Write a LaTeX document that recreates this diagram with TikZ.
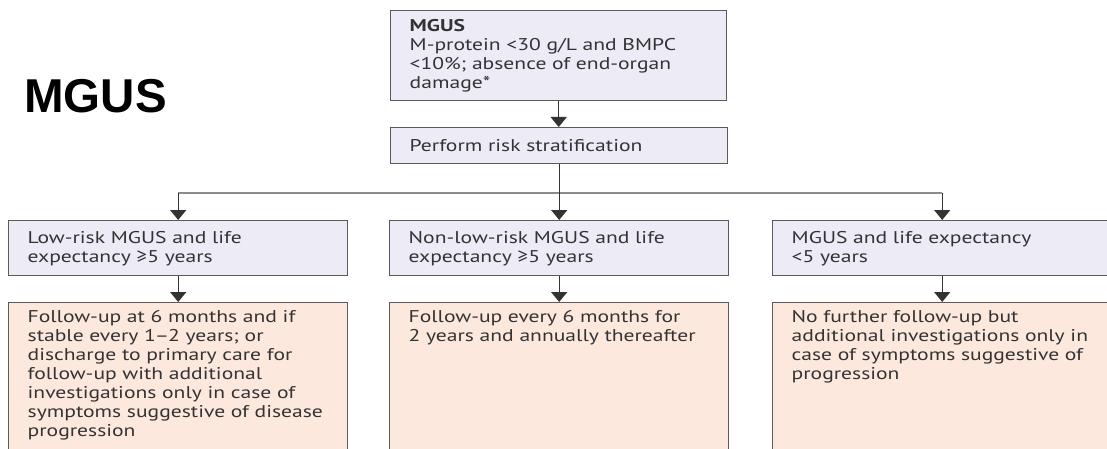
\documentclass[tikz,border=0pt]{standalone}
\usepackage{fontspec}
\setmainfont{Liberation Sans}
\newfontfamily\boxfont[FakeStretch=1.27]{PT Sans}
\usetikzlibrary{arrows.meta,positioning}
\definecolor{boxline}{HTML}{5A5A5A}
\definecolor{boxtext}{HTML}{333333}
\definecolor{lilac}{HTML}{EDEBF5}
\definecolor{peach}{HTML}{FDE8DE}
\tikzset{
    stage/.style={draw=boxline, line width=1.4pt, fill=lilac, text=boxtext,
        font=\boxfont\fontsize{17}{19}\selectfont, align=left,
        anchor=north west, inner xsep=19pt, inner ysep=0pt},
    plan/.style={stage, fill=peach, text depth=150pt, inner ysep=8pt},
    arrow/.style={draw=black!80, line width=1.4pt, -{Triangle[width=16pt,length=10pt]}},
    split/.style={draw=black!45, line width=1.4pt}
}

\begin{document}
\begin{tikzpicture}[x=1pt, y=-1pt]
    \useasboundingbox (0,0) rectangle (1107,449);
    \fill[white] (0,0) rectangle (1107,449);

    % title
    \node[font=\bfseries\fontsize{47.5}{47.5}\selectfont, anchor=base west, inner sep=0] (title) at (24,113) {MGUS};

    % top of the chart
    \node[stage, text width=298pt, minimum height=90pt] (mgus) at (390,10)
        {\textbf{MGUS}\\M-protein <30 g/L and BMPC\\<10\%; absence of end-organ\\damage*};
    \node[stage, text width=299pt, minimum height=36pt] (risk) at (390,127)
        {Perform risk stratification};

    % risk groups
    \node[stage, text width=301pt, minimum height=55pt] (lowrisk) at (8,220)
        {Low-risk MGUS and life\\expectancy ≥5 years};
    \node[stage, text width=301pt, minimum height=55pt] (nonlow) at (389,220)
        {Non-low-risk MGUS and life\\expectancy ≥5 years};
    \node[stage, text width=301pt, minimum height=55pt] (short) at (772,220)
        {MGUS and life expectancy\\<5 years};

    % follow-up
    \node[plan, text width=301pt] (lowplan) at (8,302)
        {Follow-up at 6 months and if\\stable every 1\kern-1pt–\kern-1pt2 years; or\\discharge to primary care for\\follow-up with additional\\investigations only in case of\\symptoms suggestive of disease\\progression};
    \node[plan, text width=301pt] (nonlowplan) at (389,302)
        {Follow-up every 6 months for\\2 years and annually thereafter};
    \node[plan, text width=301pt] (shortplan) at (772,302)
        {No further follow-up but\\additional investigations only in\\case of symptoms suggestive of\\progression};

    % connectors
    \coordinate (fork) at (558,193);
    \draw[arrow] (mgus.south) -- (mgus.south |- risk.north);
    \draw[split] (fork -| lowrisk.north) -- (fork -| short.north);
    \draw[arrow] (risk.south) -- (risk.south |- nonlow.north);
    \draw[arrow] (fork -| lowrisk.north) -- (lowrisk.north);
    \draw[arrow] (fork -| short.north) -- (short.north);
    \foreach \from/\to in {lowrisk/lowplan, nonlow/nonlowplan, short/shortplan}
        \draw[arrow] (\from.south) -- (\to.north);
\end{tikzpicture}
\end{document}
